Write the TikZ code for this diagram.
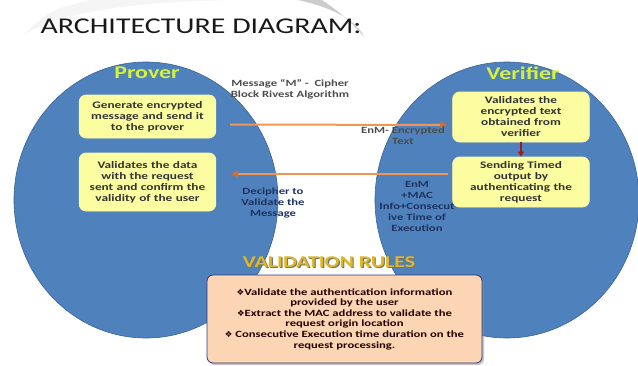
\documentclass[tikz,border=0pt]{standalone}
\usepackage{fontspec}
\setmainfont[FakeStretch=1.33]{Carlito}
\newfontfamily\symfont{DejaVu Sans}
\usetikzlibrary{shapes.geometric, arrows.meta, shadows}

\definecolor{slideblue}{RGB}{79,129,189}
\definecolor{edgeblue}{RGB}{58,98,148}
\definecolor{boxyellow}{RGB}{252,252,160}
\definecolor{flowline}{RGB}{240,150,82}
\definecolor{flowtip}{RGB}{205,112,50}
\definecolor{peach}{RGB}{251,213,180}
\definecolor{rulegold}{RGB}{222,184,40}
\definecolor{navy}{RGB}{30,50,95}
\definecolor{greentitle}{RGB}{214,240,60}

\newcommand\rulemark{{\symfont\fontsize{8.5}{8.5}\selectfont ❖}}

\tikzset{
  party/.style={ellipse, draw=edgeblue, fill=slideblue, line width=0.6pt,
    minimum width=264pt, minimum height=276pt, inner sep=0pt},
  partytitle/.style={text=greentitle, font=\fontsize{18}{20}\selectfont\bfseries},
  stepbox/.style={rectangle, rounded corners=7pt, draw=yellow!35!white, line width=0.8pt,
    fill=boxyellow, minimum width=135pt, text width=130pt, align=center,
    font=\fontsize{10}{11}\selectfont\bfseries, text=black!80},
  flow/.style={flowline, line width=2pt, -{Triangle[length=7pt,width=7pt,color=flowtip]}},
  note/.style={align=center, font=\fontsize{9.5}{11}\selectfont\bfseries},
}

\begin{document}
\begin{tikzpicture}[x=1pt, y=-1pt]
    \useasboundingbox (0,0) rectangle (638,365);

    % Faint swooshes of the slide background
    \fill[gray!8] (22,36) .. controls (60,10) and (150,0) .. (250,0) -- (90,0) .. controls (50,10) .. cycle;
    \fill[gray!40] (298,0) .. controls (335,8) and (358,22) .. (364,37) .. controls (350,20) and (334,8) .. (322,0) -- cycle;

    % Title
    \node[anchor=west, font=\fontsize{22.5}{25}\selectfont, text=black!90] (title) at (37,26) {ARCHITECTURE DIAGRAM:};

    % The two parties
    \node[party] (prover) at (146,200) {};
    \node[party] (verifier) at (507,200) {};
    \node[partytitle] (provertitle) at (147,73) {Prover};
    \node[partytitle] (verifiertitle) at (523,73) {Verifier};

    % Steps inside each party
    \node[stepbox, minimum height=43pt] (gen) at (147.5,116.5) {Generate encrypted\\ message and send it\\ to the prover};
    \node[stepbox, minimum height=58pt] (valid) at (147.5,182) {Validates the data\\ with the request\\ sent and confirm the\\ validity of the user};
    \node[stepbox, minimum height=50pt] (check) at (521,117) {Validates the\\ encrypted text\\ obtained from\\ verifier};
    \node[stepbox, minimum height=50pt] (send) at (521,182) {Sending Timed\\ output by\\ authenticating the\\ request};

    % Messages between the parties
    \draw[flow] ([xshift=14pt, yshift=-8pt]gen.east) -- ([xshift=-5pt, yshift=-8pt]check.west);
    \draw[flow] ([xshift=-4pt, yshift=8pt]send.west) -- ([xshift=15pt, yshift=8pt]valid.east);
    \draw[red!60!black!90, line width=1.6pt, -{Triangle[length=5pt,width=6pt]}] (check.south) -- (send.north);

    % Labels on the messages
    \node[note, text=black!70] (msg) at (290,89) {Message ``M'' -\ \ Cipher\\ Block Rivest Algorithm};
    \node[note, text=black!70] (enm) at (403,136) {EnM- Encrypted\\ Text};
    \node[note, text=navy] (decipher) at (273,203) {Decipher to\\ Validate the\\ Message};
    \node[note, text=navy] (enmmac) at (417,206) {EnM\\ +MAC\\ Info+Consecut\\ ive Time of\\ Execution};

    % Validation rules
    \node[text=black!55, font=\fontsize{16.5}{18}\selectfont\bfseries] at (330.2,263.2) {VALIDATION RULES};
    \node[text=rulegold, font=\fontsize{16.5}{18}\selectfont\bfseries] (rulestitle) at (329,262) {VALIDATION RULES};
    \node[rectangle, rounded corners=6pt, draw=black!55!blue!60!gray, line width=0.8pt, fill=peach,
          drop shadow={shadow xshift=2pt, shadow yshift=-2pt, fill=black!45},
          minimum width=275pt, minimum height=88pt, align=center,
          font=\fontsize{9.5}{10.6}\selectfont\bfseries, text=black!80!red!70!black] (rules) at (344.5,319)
        {\rulemark Validate the authentication information\\ provided by the user\\
         \rulemark Extract the MAC address to validate the\\ request origin location\\
         \rulemark\ Consecutive Execution time duration on the\\ request processing.};
\end{tikzpicture}
\end{document}
